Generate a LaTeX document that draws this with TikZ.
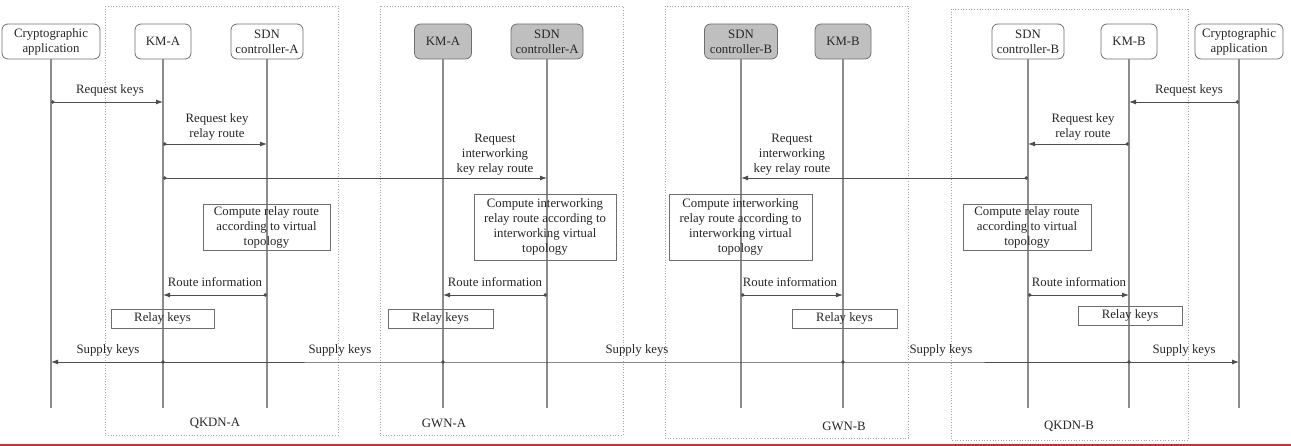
\documentclass[tikz,border=0pt]{standalone}
\usepackage{fontspec}
\setmainfont{Liberation Serif}
\usetikzlibrary{arrows.meta}
\definecolor{lifec}{HTML}{8C8C8C}
\definecolor{msgc}{HTML}{4D4D4D}
\definecolor{boxc}{HTML}{6E6E6E}
\definecolor{headfill}{HTML}{BFBFBF}
\definecolor{txtc}{HTML}{262626}
\definecolor{framec}{HTML}{A6A6A6}
\definecolor{edgec}{HTML}{C83232}
\begin{document}
\begin{tikzpicture}[x=1pt,y=-1pt,
 every node/.style={font=\fontsize{12.8}{15}\selectfont, text=txtc, inner sep=0pt, align=center},
 head/.style={draw=boxc, rounded corners=6pt, minimum height=35pt, line width=0.8pt},
 gwhead/.style={head, fill=headfill},
 life/.style={draw=lifec, line width=1.4pt},
 msg/.style={draw=msgc, line width=0.9pt, {Circle[length=3.5pt]}-{Latex[length=7pt,width=5pt]}},
 supl/.style={draw=msgc, line width=0.9pt},
 actbox/.style={draw=boxc, line width=0.8pt},
 grpframe/.style={draw=framec, dotted, line width=0.7pt}]

\useasboundingbox (0,0) rectangle (1291,446);

% group frames
\draw[grpframe] (105,6) rectangle (338,435);
\draw[grpframe] (380,6) rectangle (623,435);
\draw[grpframe] (665,6) rectangle (908,438);
\draw[grpframe] (951,9) rectangle (1188,440);

% heads
\node[head, minimum width=98pt] (caA) at (51,41.5) {Cryptographic\\application};
\node[head, minimum width=56pt] (kmA) at (163,41.5) {KM-A};
\node[head, minimum width=72pt] (scA) at (267,41.5) {SDN\\controller-A};
\node[gwhead, minimum width=57pt] (gkmA) at (443,41.5) {KM-A};
\node[gwhead, minimum width=72pt] (gscA) at (547,41.5) {SDN\\controller-A};
\node[gwhead, minimum width=73pt] (gscB) at (741,41.5) {SDN\\controller-B};
\node[gwhead, minimum width=56pt] (gkmB) at (843,41.5) {KM-B};
\node[head, minimum width=72pt] (scB) at (1028,41.5) {SDN\\controller-B};
\node[head, minimum width=56pt] (kmB) at (1129,41.5) {KM-B};
\node[head, minimum width=88pt] (caB) at (1239,41.5) {Cryptographic\\application};

% lifelines
\foreach \n in {caA,kmA,scA,gkmA,gscA,gscB,gkmB,scB,kmB,caB}
  \draw[life] (\n.south) -- (\n |- 0,408);

% group labels
\node (lqa) at (215,423) {QKDN-A};
\node (lga) at (444,423) {GWN-A};
\node (lgb) at (844,426) {GWN-B};
\node (lqb) at (1069,426) {QKDN-B};

% request keys
\draw[msg] (caA |- 0,102) -- (kmA |- 0,102);
\node (t1) at (110,90) {Request keys};
\draw[msg] (caB |- 0,102) -- (kmB |- 0,102);
\node (t2) at (1189,90) {Request keys};

% request key relay route
\draw[msg] (kmA |- 0,144) -- (scA |- 0,144);
\node (t3) at (217,127) {Request key\\relay route};
\draw[msg] (kmB |- 0,144) -- (scB |- 0,144);
\node (t4) at (1083,127) {Request key\\relay route};

% request interworking key relay route
\draw[msg] (kmA |- 0,178) -- (gscA |- 0,178);
\node (t5) at (495,155) {Request\\interworking\\key relay route};
\draw[msg] (scB |- 0,178) -- (gscB |- 0,178);
\node (t6) at (792,155) {Request\\interworking\\key relay route};

% compute boxes
\node[actbox, minimum width=127pt, minimum height=46pt] (cA) at (266.5,227) {Compute relay route\\according to virtual\\topology};
\node[actbox, minimum width=142pt, minimum height=66pt] (cGA) at (545,227) {Compute interworking\\relay route according to\\interworking virtual\\topology};
\node[actbox, minimum width=143pt, minimum height=66pt] (cGB) at (740.5,227) {Compute interworking\\relay route according to\\interworking virtual\\topology};
\node[actbox, minimum width=128pt, minimum height=46pt] (cB) at (1027,227) {Compute relay route\\according to virtual\\topology};

% route information
\draw[msg] (scA |- 0,295) -- (kmA |- 0,295);
\node (r1) at (215,282) {Route information};
\draw[msg] (gscA |- 0,295) -- (gkmA |- 0,295);
\node (r2) at (495,282) {Route information};
\draw[msg] (gscB |- 0,295) -- (gkmB |- 0,295);
\node (r3) at (790,282) {Route information};
\draw[msg] (scB |- 0,295) -- (kmB |- 0,295);
\node (r4) at (1079,282) {Route information};

% relay keys
\node[actbox, minimum width=103pt, minimum height=19pt] (k1) at (162.5,318.5) {Relay keys};
\node[actbox, minimum width=105pt, minimum height=19pt] (k2) at (440.5,318.5) {Relay keys};
\node[actbox, minimum width=105pt, minimum height=19pt] (k3) at (844.5,318.5) {Relay keys};
\node[actbox, minimum width=104pt, minimum height=19pt] (k4) at (1130,315.5) {Relay keys};

% supply keys
\draw[supl, -{Latex[length=7pt,width=5pt]}] (kmA |- 0,362) -- (caA |- 0,362);
\draw[supl] (kmA |- 0,362) -- (gkmA |- 0,362) -- (gkmB |- 0,362) -- (kmB |- 0,362);
\draw[supl, -{Latex[length=7pt,width=5pt]}] (kmB |- 0,362) -- (caB |- 0,362);
\foreach \n in {kmA,gkmA,gkmB,kmB}
  \fill[msgc] (\n |- 0,362) circle (1.9pt);
\node (s1) at (108,350) {Supply keys};
\node (s2) at (340,350) {Supply keys};
\node (s3) at (637,350) {Supply keys};
\node (s4) at (941,350) {Supply keys};
\node (s5) at (1184,350) {Supply keys};

% bottom edge line
\draw[edgec, line width=1.5pt] (0,445) -- (1291,445);
\end{tikzpicture}
\end{document}
